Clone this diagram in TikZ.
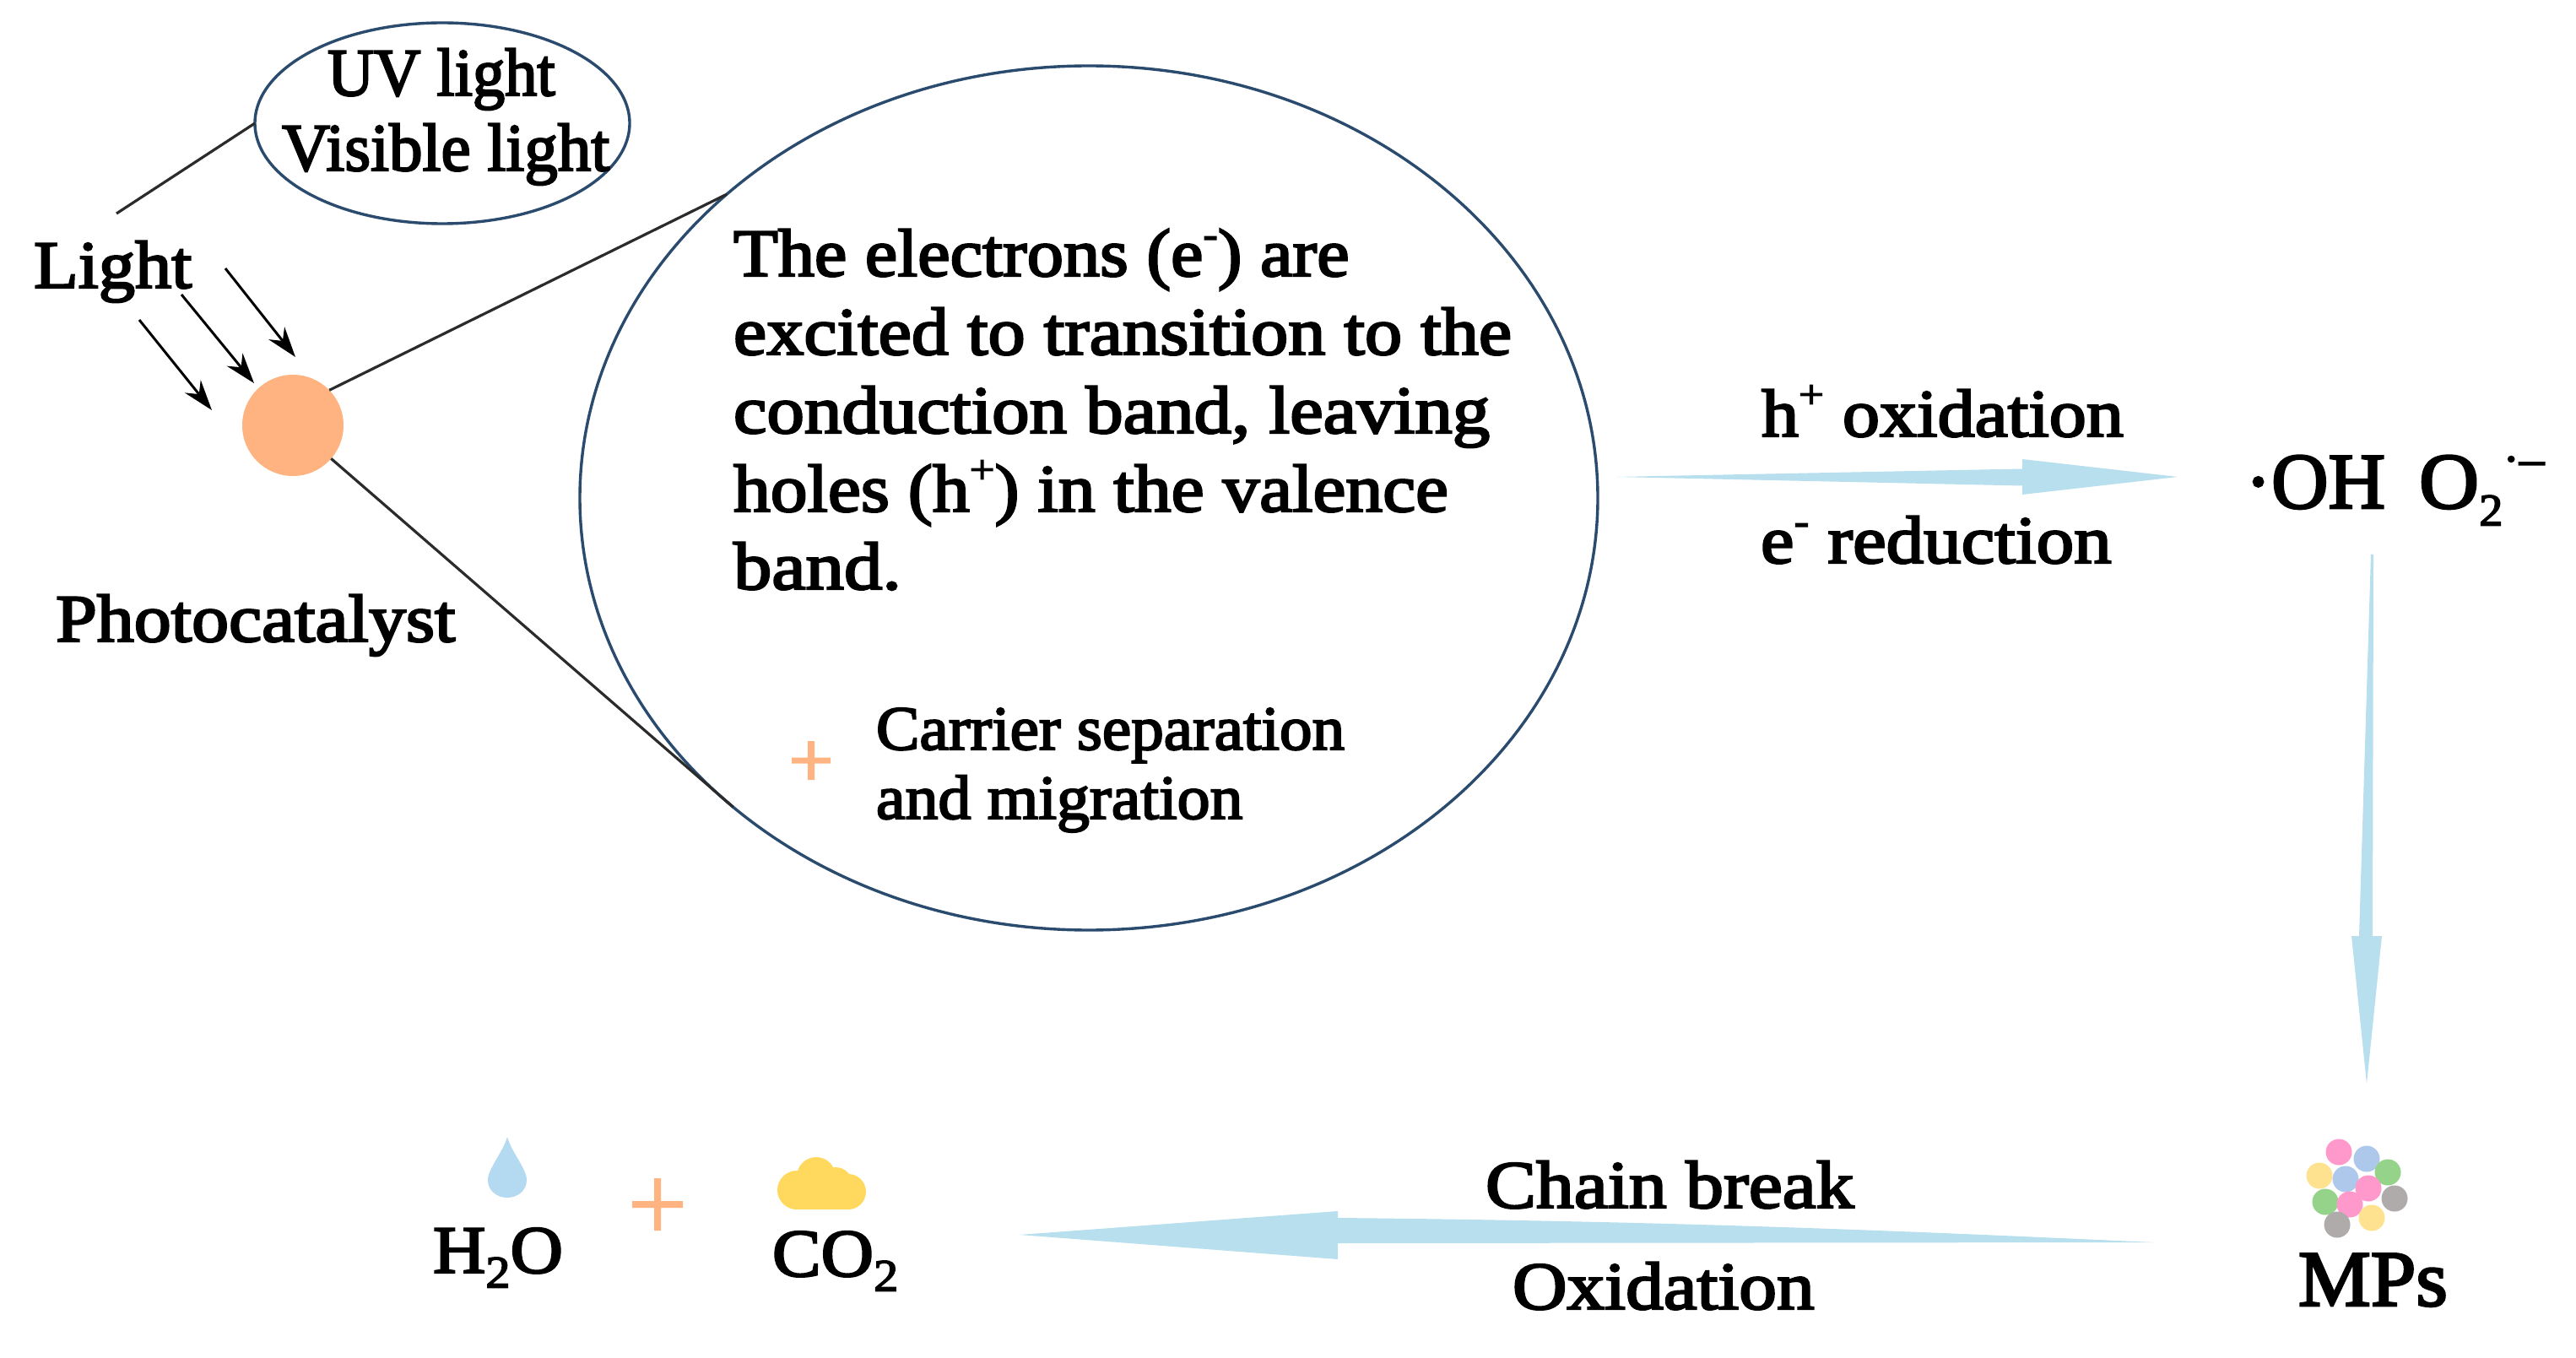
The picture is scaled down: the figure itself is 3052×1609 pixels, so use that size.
\documentclass[tikz,border=0pt]{standalone}
\usepackage{fontspec}
\usetikzlibrary{shapes.geometric,arrows.meta,calc}
\setmainfont[FakeStretch=1.08,FakeBold=3]{Liberation Serif}
\newcommand\supx[1]{\raisebox{.42em}{\fontsize{24}{24}\selectfont #1}}
\newcommand\subx[1]{\raisebox{-.22em}{\fontsize{27}{27}\selectfont #1}}
\newcommand\sx[2]{\scalebox{#1}[1]{#2}}
\definecolor{navyline}{HTML}{2A4B6E}
\definecolor{darkline}{HTML}{2B2B2B}
\definecolor{peach}{HTML}{FFB380}
\definecolor{flowblue}{HTML}{B7DFEE}
\definecolor{dropblue}{HTML}{B4DAF1}
\definecolor{cloudyellow}{HTML}{FFD95E}
\definecolor{mppink}{HTML}{FF99CC}
\definecolor{mpblue}{HTML}{ADC8EA}
\definecolor{mpyellow}{HTML}{FFE28F}
\definecolor{mpgreen}{HTML}{96D38A}
\definecolor{mpgray}{HTML}{AFABAB}
\tikzset{
  lab/.style={anchor=base west,inner sep=0pt,outer sep=0pt,text=black,font=\fontsize{40}{48}\selectfont},
  smalllab/.style={lab,font=\fontsize{37}{44}\selectfont},
  biglab/.style={lab,font=\fontsize{47}{56}\selectfont},
  ring/.style={ellipse,draw=navyline,line width=1.7pt,inner sep=0pt,outer sep=0pt},
  thin link/.style={draw=darkline,line width=1.6pt},
  ray/.style={draw=black,line width=1.5pt,-{Stealth[length=18pt,width=12pt]}},
  flow/.style={fill=flowblue},
  mpdot/.style={circle,inner sep=0pt,outer sep=0pt,minimum size=15.5pt},
}
\begin{document}
\begin{tikzpicture}[x=0.5pt,y=-0.5pt]
\useasboundingbox (0,0) rectangle (3052,1609);
% rings and catalyst
\node[ring,minimum width=222pt,minimum height=119pt] (small) at (524,146) {};
\node[ring,minimum width=603pt,minimum height=512pt] (big) at (1290,590) {};
\node[circle,fill=peach,inner sep=0pt,outer sep=0pt,minimum size=60pt] (cat) at (347,504) {};
% labels
\node[lab] (uv) at (388,113) {\sx{.885}{UV light}};
\node[lab] (vis) at (334,202) {\sx{.915}{Visible light}};
\node[lab] (light) at (40,341) {Light};
\node[lab] (photo) at (66,760) {\sx{1.017}{Photocatalyst}};
\node[lab] (m1) at (869,327) {The electrons (e\supx{-}) are};
\node[lab] (m2) at (869,420) {\sx{1.022}{excited to transition to the}};
\node[lab] (m3) at (869,513) {\sx{1.029}{conduction band, leaving}};
\node[lab] (m4) at (869,606) {\sx{1.014}{holes (h\supx{+}) in the valence}};
\node[lab] (m5) at (869,698) {\sx{1.05}{band.}};
\node[smalllab] (c1) at (1038,888) {\sx{.966}{Carrier separation}};
\node[smalllab] (c2) at (1038,970) {\sx{.974}{and migration}};
\node[lab] (hox) at (2087,517) {\sx{1.02}{h\supx{+} oxidation}};
\node[lab] (ered) at (2086,667) {\sx{1.03}{e\supx{-} reduction}};
\node[biglab] (oh) at (2660,602) {\sx{.92}{·OH}};
\node[biglab] (o2) at (2866,602) {\sx{.97}{O\subx{2}\raisebox{.42em}{\fontsize{28}{28}\selectfont ·–}}};
\node[biglab] (mps) at (2723,1547) {\sx{.95}{MPs}};
\node[lab] (chain) at (1760,1431) {\sx{1.04}{Chain break}};
\node[lab] (oxi) at (1792,1551) {\sx{1.035}{Oxidation}};
\node[lab] (h2o) at (513,1508) {H\subx{2}O};
\node[lab] (co2) at (915,1512) {CO\subx{2}};
% thin links
\coordinate (lighttop) at (138,253);
\draw[thin link] (lighttop) -- (small.west);
\draw[thin link] (cat.44) -- (big.140.3);
\draw[thin link] (cat.-41) -- (big.221);
% light rays
\coordinate (r1s) at (267,318); \coordinate (r1e) at (350,423);
\coordinate (r2s) at (215,349); \coordinate (r2e) at (301,454);
\coordinate (r3s) at (165,379); \coordinate (r3e) at (251,486);
\draw[ray] (r1s) -- (r1e);
\draw[ray] (r2s) -- (r2e);
\draw[ray] (r3s) -- (r3e);
% flow arrows
\coordinate (fas) at (1915,565); \coordinate (fae) at (2580,565);
\fill[flow] (fas) -- ($(fae)+(-184,-9.5)$) -- ($(fae)+(-184,-21)$) -- (fae) -- ($(fae)+(-184,21)$) -- ($(fae)+(-184,10.5)$) -- cycle;
\coordinate (fbs) at (2812,657); \coordinate (fbe) at (2804,1284);
\fill[flow] (fbs) -- ($(fbe)+(7,-175)$) -- ($(fbe)+(18,-175)$) -- (fbe) -- ($(fbe)+(-18,-175)$) -- ($(fbe)+(-9,-175)$) -- ($(fbs)+(-3,0)$) -- cycle;
\coordinate (fcs) at (2552,1472); \coordinate (fce) at (1208,1463);
\fill[flow] (fcs) .. controls (2267,1459) and (1995,1447) .. ($(fce)+(377,-20)$) -- ($(fce)+(377,-28)$) -- (fce) -- ($(fce)+(377,29)$) -- ($(fce)+(377,10)$) -- cycle;
% small pluses
\fill[peach] (938,897.5) rectangle (984,904.5) (957,878) rectangle (965,924);
\fill[peach] (749,1423) rectangle (809,1431) (775,1396) rectangle (783,1458);
% drop
\fill[dropblue] (601,1347) .. controls (606,1365) and (624,1385) .. (624,1398) .. controls (624,1411) and (613,1419) .. (601,1419) .. controls (589,1419) and (578,1411) .. (578,1398) .. controls (578,1385) and (596,1365) .. (601,1347) -- cycle;
% cloud
\fill[cloudyellow] (944,1410) circle[radius=23] (967,1394) circle[radius=23] (990,1403) circle[radius=20] (1005,1412) circle[radius=21];
\fill[cloudyellow] (944,1410) rectangle (1005,1433);
\fill[cloudyellow] (950,1400) rectangle (1000,1420);
% MP cluster
\node[mpdot,fill=mppink] (d1) at (2771,1365) {};
\node[mpdot,fill=mpblue] (d2) at (2804,1373) {};
\node[mpdot,fill=mpyellow] (d3) at (2748,1393) {};
\node[mpdot,fill=mpgreen] (d4) at (2829,1389) {};
\node[mpdot,fill=mpblue] (d5) at (2779,1397) {};
\node[mpdot,fill=mpgreen] (d6) at (2755,1424) {};
\node[mpdot,fill=mpgray] (d7) at (2837,1420) {};
\node[mpdot,fill=mppink] (d8) at (2784,1427) {};
\node[mpdot,fill=mppink] (d9) at (2806,1408) {};
\node[mpdot,fill=mpyellow] (d10) at (2810,1443) {};
\node[mpdot,fill=mpgray] (d11) at (2769,1451) {};
\end{tikzpicture}
\end{document}
